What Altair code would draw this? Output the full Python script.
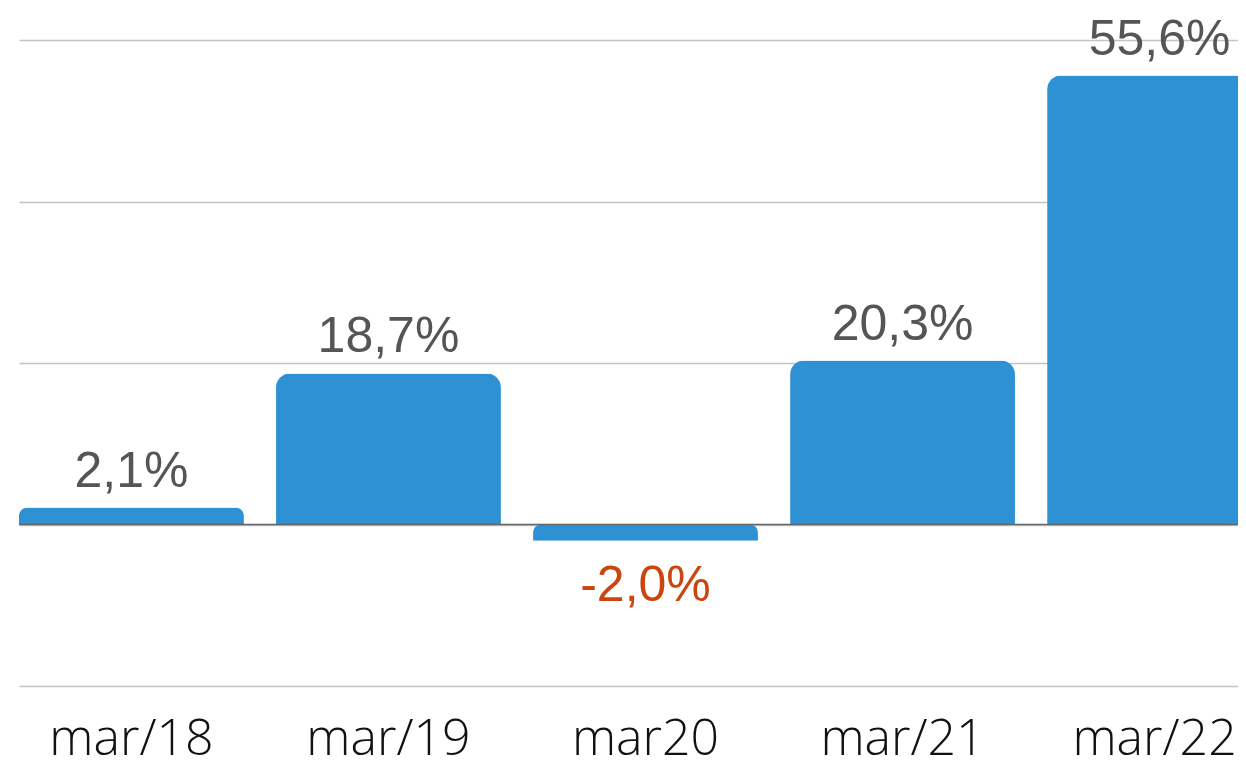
import altair as alt
import pandas as pd

periods = ["mar/18", "mar/19", "mar20", "mar/21", "mar/22"]
values = [2.1, 18.7, -2.0, 20.3, 55.6]
value_labels = ["2,1%", "18,7%", "-2,0%", "20,3%", "55,6%"]
grid_values = [-20, 0, 20, 40, 60]

df = pd.DataFrame({"period": periods, "value": values, "label": value_labels})

x_enc = alt.X(
    "period:N",
    sort=periods,
    scale=alt.Scale(range=[0, 1253], paddingInner=0.125, paddingOuter=0),
    axis=alt.Axis(
        title=None, ticks=False, tickSize=0, domain=False, labelAngle=0,
        labelFont="Open Sans", labelFontWeight=300, labelFontSize=50,
        labelColor="#111111", labelBaseline="alphabetic", labelPadding=68,
        labelOffset={"condition": {"test": "datum.value === 'mar/22'", "value": -5}, "value": 0},
        grid=False,
    ),
)
y_scale = alt.Scale(domain=[-20, 60], nice=False, zero=False)

base = alt.Chart(df)

bars = base.mark_bar(color="#2d91d4", cornerRadiusEnd=14).encode(
    x=x_enc,
    y=alt.Y(
        "value:Q",
        scale=y_scale,
        axis=alt.Axis(
            title=None, labels=False, ticks=False, domain=False,
            values=grid_values, gridColor="#c4c4c4", gridWidth=1.5,
        ),
    ),
)

zero = alt.Chart(pd.DataFrame({"z": [0]})).mark_rule(color="#666666", strokeWidth=1.5).encode(
    y=alt.Y("z:Q", scale=y_scale)
)

pos_text = base.transform_filter("datum.value >= 0").mark_text(
    font="Liberation Sans", fontSize=50, color="#555555", baseline="alphabetic", dy=-21
).encode(x=alt.X("period:N", sort=periods), y=alt.Y("value:Q", scale=y_scale), text="label:N")

neg_text = base.transform_filter("datum.value < 0").mark_text(
    font="Liberation Sans", fontSize=50, color="#cc4410", baseline="alphabetic", dy=60
).encode(x=alt.X("period:N", sort=periods), y=alt.Y("value:Q", scale=y_scale), text="label:N")

chart = alt.layer(bars, zero, pos_text, neg_text).properties(
    width=1219, height=646,
    autosize=alt.AutoSizeParams(type="none"),
    padding={"left": 11, "top": 32, "right": 0, "bottom": 72},
).configure_view(stroke=None)

chart.save("out.html", embed_options={"renderer": "svg", "actions": False})
